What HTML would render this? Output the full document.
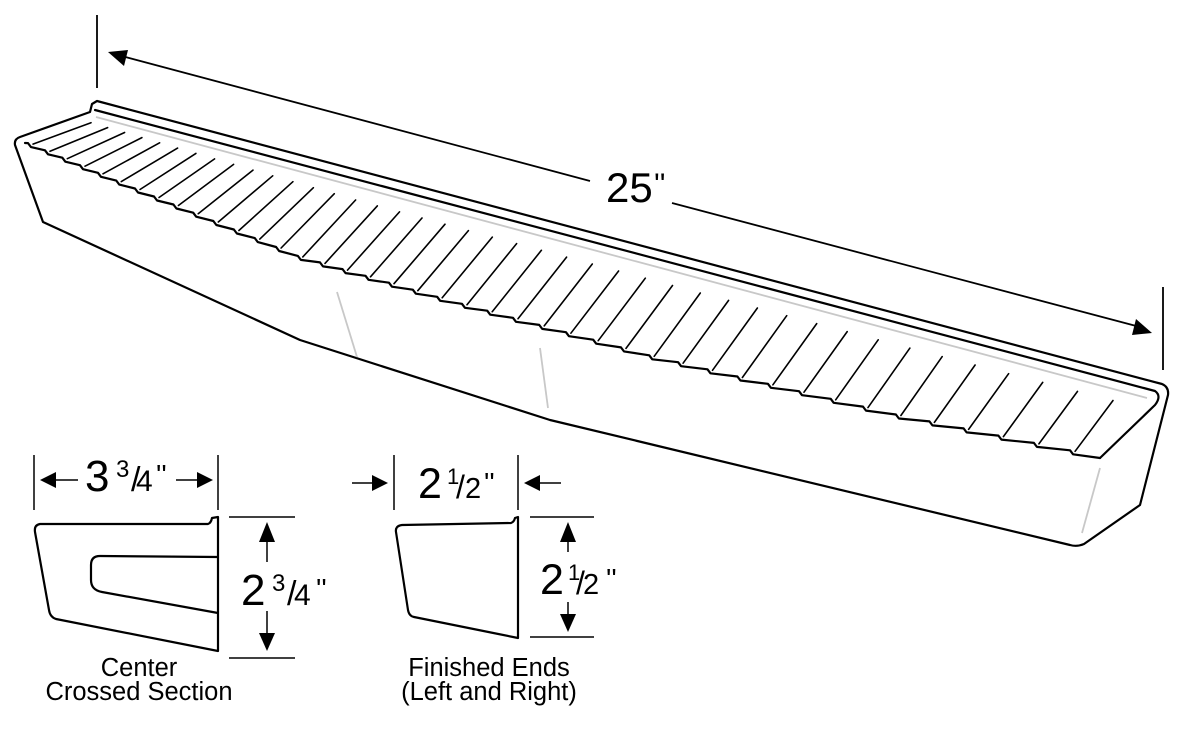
<!DOCTYPE html>
<html><head><meta charset="utf-8"><style>
html,body{margin:0;padding:0;background:#fff;}
svg{display:block;}
text{font-family:"Liberation Sans","DejaVu Sans",sans-serif;fill:#000;}
</style></head><body>
<svg id="s" width="1183" height="738" viewBox="0 0 1183 738" xmlns="http://www.w3.org/2000/svg">
<g fill="none" stroke="#000" stroke-width="2.2" stroke-linejoin="round" stroke-linecap="round">
<path d="M97,101 L1162,384 Q1169,387 1168,395 L1140,505 L1084,544 Q1077,547 1070,545 L550,420 L300,340 L43,222 L15,145 Q14,139 20,137 L90,112 L92,104 Z"/>
<path d="M95,110 L1155,391 Q1162,396 1155,405 L1100,458"/>
<path id="front" d=""/>
<g id="slats" stroke-width="1.6"></g>
</g>
<g fill="none" stroke="#c8c8c8" stroke-width="1.8">
<path d="M96,117 L1147,398"/>
<line x1="337" y1="292" x2="357" y2="357"/>
<line x1="540" y1="348" x2="548" y2="408"/>
<line x1="1100" y1="468" x2="1082" y2="533"/>
</g>
<g stroke="#000" stroke-width="1.8" fill="none">
<line x1="97" y1="15" x2="97" y2="88"/>
<line x1="1163" y1="287" x2="1163" y2="370"/>
<line x1="118" y1="55" x2="590" y2="181"/>
<line x1="672" y1="203" x2="1140" y2="327"/>
</g>
<polygon points="108,52 128,50 124,66" fill="#000"/>
<polygon points="1152,333 1132,335 1136,319" fill="#000"/>
<text x="606" y="202" font-size="42">25</text>
<text x="654" y="194" font-size="30">''</text>

<!-- center section -->
<g fill="none" stroke="#000" stroke-width="2.2" stroke-linejoin="round">
<path d="M40,524 L208,524 Q211,523 212,518 L218,517 L218,651 L56,619 Q50,617 49,610 L35,532 Q34,525 40,524 Z"/>
<path d="M218,557 L100,556 Q91,556 91,565 L91,580 Q91,590 102,592 L218,613"/>
</g>
<g stroke="#000" stroke-width="1.5" fill="none">
<line x1="34" y1="455" x2="34" y2="510"/>
<line x1="218" y1="455" x2="218" y2="510"/>
<line x1="55" y1="480" x2="78" y2="480"/>
<line x1="176" y1="480" x2="198" y2="480"/>
<line x1="229" y1="517" x2="295" y2="517"/>
<line x1="229" y1="658" x2="295" y2="658"/>
<line x1="267" y1="540" x2="267" y2="562"/>
<line x1="267" y1="611" x2="267" y2="634"/>
</g>
<polygon points="40,480 56,472 56,488" fill="#000"/>
<polygon points="213,480 197,472 197,488" fill="#000"/>
<polygon points="267,522 259,542 275,542" fill="#000"/>
<polygon points="267,651 259,633 275,633" fill="#000"/>
<text x="85" y="491" font-size="44">3</text>
<text x="116" y="477" font-size="24">3</text>
<text x="131" y="491" font-size="34">/</text>
<text x="136" y="491" font-size="30">4</text>
<text x="156" y="484" font-size="28">''</text>
<text x="241" y="605" font-size="44">2</text>
<text x="272" y="591" font-size="24">3</text>
<text x="287" y="605" font-size="34">/</text>
<text x="294" y="605" font-size="30">4</text>
<text x="316" y="598" font-size="28">''</text>
<text x="139" y="676" font-size="25.5" text-anchor="middle">Center</text>
<text x="139" y="700" font-size="25.5" text-anchor="middle">Crossed Section</text>

<!-- ends section -->
<g fill="none" stroke="#000" stroke-width="2.2" stroke-linejoin="round">
<path d="M402,525 L511,523 Q514,522 515,518 L518,517 L518,638 L414,617 Q409,616 408,610 L396,532 Q395,526 402,525 Z"/>
</g>
<g stroke="#000" stroke-width="1.5" fill="none">
<line x1="394" y1="455" x2="394" y2="510"/>
<line x1="518" y1="455" x2="518" y2="510"/>
<line x1="352" y1="483" x2="374" y2="483"/>
<line x1="538" y1="483" x2="561" y2="483"/>
<line x1="530" y1="517" x2="594" y2="517"/>
<line x1="530" y1="637" x2="594" y2="637"/>
<line x1="568" y1="540" x2="568" y2="552"/>
<line x1="568" y1="602" x2="568" y2="615"/>
</g>
<polygon points="388,483 372,475 372,491" fill="#000"/>
<polygon points="524,483 540,475 540,491" fill="#000"/>
<polygon points="568,522 560,542 576,542" fill="#000"/>
<polygon points="568,632 560,614 576,614" fill="#000"/>
<text x="418" y="498" font-size="43">2</text>
<text x="447" y="484" font-size="22">1</text>
<text x="456" y="498" font-size="32">/</text>
<text x="465" y="498" font-size="29">2</text>
<text x="484" y="492" font-size="28">''</text>
<text x="540" y="594" font-size="43">2</text>
<text x="568" y="580" font-size="22">1</text>
<text x="576" y="594" font-size="32">/</text>
<text x="583" y="594" font-size="29">2</text>
<text x="606" y="588" font-size="28">''</text>
<text x="489" y="676" font-size="25.5" text-anchor="middle">Finished Ends</text>
<text x="489" y="700" font-size="25.5" text-anchor="middle">(Left and Right)</text>
</svg>
<script>
(function(){
var F=[[25,143],[150,196],[300,258],[450,302],[600,343],[650,357],[900,417],[1100,458]];
var G=[[96,117],[1147,398]];
function yAt(p,x){for(var i=0;i<p.length-1;i++){var a=p[i],b=p[i+1];if(x<=b[0]||i==p.length-2)return a[1]+(x-a[0])*(b[1]-a[1])/(b[0]-a[0]);}}
var xs=[],x=30;
while(x<1080){xs.push(x);var t=(x-30)/1050;x+=17+20*t;}
var d="M25,143",s=2;
for(var i=0;i<xs.length;i++){
 var xi=xs[i];
 d+=" L"+(xi-2)+","+(yAt(F,xi)-s).toFixed(1)+" L"+(xi+1)+","+(yAt(F,xi)+s).toFixed(1);
}
d+=" L1100,458";
document.getElementById("front").setAttribute("d",d);
var g=document.getElementById("slats"),h="";
for(var i=0;i<xs.length;i++){
 var xi=xs[i],t=(xi-30)/1050;
 var fx=xi+3,fy=yAt(F,xi)-1;
 var bx=xi+72-24*t;if(bx>1147)bx=1147;var by=yAt(G,bx);
 var ex=fx+0.84*(bx-fx),ey=fy+0.84*(by-fy);
 h+='<line x1="'+fx.toFixed(1)+'" y1="'+fy.toFixed(1)+'" x2="'+ex.toFixed(1)+'" y2="'+ey.toFixed(1)+'"/>';
}
g.innerHTML=h;
})();
</script>
</body></html>
